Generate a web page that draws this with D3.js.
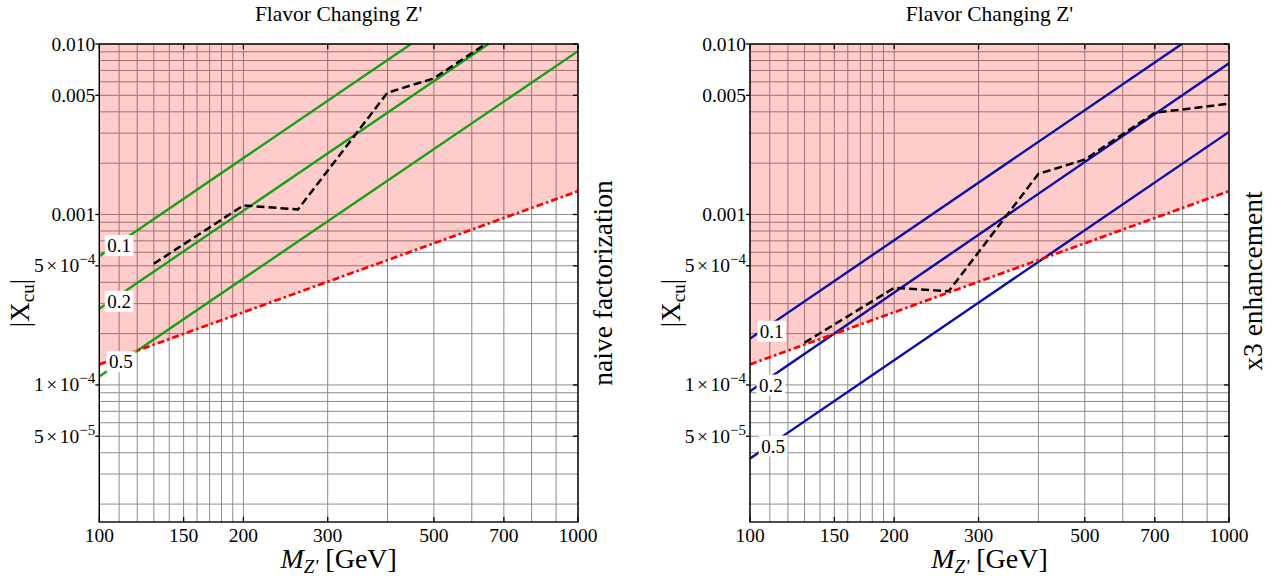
<!DOCTYPE html>
<html><head><meta charset="utf-8">
<script src="https://cdn.jsdelivr.net/npm/d3@7"></script>
<style>
body{margin:0;background:#fff;}
svg{display:block;font-family:"Liberation Serif","Times New Roman",serif;}
</style>
</head><body>
<svg id="c" width="1278" height="580"></svg>
<script>
// ---------------- data ----------------
const xTickValues = [100, 150, 200, 300, 500, 700, 1000];
const xTickLabels = ["100", "150", "200", "300", "500", "700", "1000"];
const yTickValues = [0.01, 0.005, 0.001, 5e-4, 1e-4, 5e-5];
const yTickMant = ["0.010", "0.005", "0.001", "5", "1", "5"];
const yTickExp = ["", "", "", "\u22124", "\u22124", "\u22125"];
const xGridValues = [100,110,120,130,140,150,160,170,180,190,200,300,400,500,600,700,800,900,1000];
const yGridValues = [2e-5,3e-5,4e-5,5e-5,6e-5,7e-5,8e-5,9e-5,
                     1e-4,2e-4,3e-4,4e-4,5e-4,6e-4,7e-4,8e-4,9e-4,
                     1e-3,2e-3,3e-3,4e-3,5e-3,6e-3,7e-3,8e-3,9e-3,1e-2];

const titles = ["Flavor Changing Z'", "Flavor Changing Z'"];
const sideLabels = ["naive factorization", "x3 enhancement"];

// boundary of the excluded (pink) region, identical in both panels
const boundary = [[100, 1.32e-4], [1000, 1.37e-3]];

// left panel (naive factorization): green lines
const leftLine01 = [[100, 5.69e-4], [448, 1.0e-2]];
const leftLine02 = [[100, 2.80e-4], [650, 1.0e-2]];
const leftLine05 = [[100, 1.12e-4], [1000, 9.08e-3]];
const leftDashed = [[130, 5.14e-4], [200, 1.13e-3], [260, 1.07e-3], [400, 5.18e-3],
                    [500, 6.29e-3], [700, 1.18e-2], [1000, 1.34e-2]];
// right panel (x3 enhancement): blue lines
const rightLine01 = [[100, 1.87e-4], [797, 1.0e-2]];
const rightLine02 = [[100, 9.19e-5], [1000, 7.7e-3]];
const rightLine05 = [[100, 3.70e-5], [1000, 3.05e-3]];
const rightDashed = [[130, 1.77e-4], [200, 3.71e-4], [260, 3.55e-4], [400, 1.73e-3],
                     [500, 2.10e-3], [700, 3.95e-3], [1000, 4.46e-3]];

const lineLabels = ["0.1", "0.2", "0.5"];
const leftLabelPos = [[110, 6.58e-4], [110, 3.10e-4], [111, 1.37e-4]];
const rightLabelPos = [[111, 2.07e-4], [110.6, 1.0e-4], [111.7, 4.39e-5]];

// ---------------- layout ----------------
const svg = d3.select("#c");
const yTop = 44, yBottom = 522;
const panels = [
  {x0: 99.3, x1: 578, lines: [leftLine01, leftLine02, leftLine05], dashed: leftDashed,
   color: "#15a015", labelPos: leftLabelPos, title: titles[0], side: sideLabels[0], sideX: 612, sideY: 283},
  {x0: 750, x1: 1229, lines: [rightLine01, rightLine02, rightLine05], dashed: rightDashed,
   color: "#0c0ca6", labelPos: rightLabelPos, title: titles[1], side: sideLabels[1], sideX: 1262, sideY: 281}
];

const y = d3.scaleLog().domain([1.57e-5, 0.01]).range([yBottom, yTop]);

panels.forEach((p, i) => {
  const x = d3.scaleLog().domain([100, 1000]).range([p.x0, p.x1]);
  const g = svg.append("g");
  const clipId = "clip" + i;
  svg.append("clipPath").attr("id", clipId).append("rect")
    .attr("x", p.x0).attr("y", yTop).attr("width", p.x1 - p.x0).attr("height", yBottom - yTop);

  // grid
  g.append("g").selectAll("line").data(xGridValues).join("line")
    .attr("x1", d => x(d)).attr("x2", d => x(d)).attr("y1", yTop).attr("y2", yBottom)
    .attr("stroke", "#8c8c8c").attr("stroke-width", 1);
  g.append("g").selectAll("line").data(yGridValues).join("line")
    .attr("y1", d => y(d)).attr("y2", d => y(d)).attr("x1", p.x0).attr("x2", p.x1)
    .attr("stroke", "#8c8c8c").attr("stroke-width", 1);

  const plot = g.append("g").attr("clip-path", `url(#${clipId})`);

  // pink excluded region
  const area = d3.area().x(d => x(d[0])).y0(() => y(0.01)).y1(d => y(d[1]));
  plot.append("path").datum(boundary).attr("d", area)
    .attr("fill", "#ff0000").attr("fill-opacity", 0.2);

  const line = d3.line().x(d => x(d[0])).y(d => y(d[1]));
  // coloured lines
  p.lines.forEach(L => {
    plot.append("path").datum(L).attr("d", line)
      .attr("fill", "none").attr("stroke", p.color).attr("stroke-width", 2.4);
  });
  // black dashed
  plot.append("path").datum(p.dashed).attr("d", line)
    .attr("fill", "none").attr("stroke", "#000").attr("stroke-width", 2.5)
    .attr("stroke-dasharray", "8,4");
  // red dash-dot boundary
  plot.append("path").datum(boundary).attr("d", line)
    .attr("fill", "none").attr("stroke", "#ff0000").attr("stroke-width", 2.7)
    .attr("stroke-dasharray", "7,3,2.5,3");

  // line labels
  p.labelPos.forEach((pos, k) => {
    const lg = plot.append("g").attr("transform", `translate(${x(pos[0])},${y(pos[1])})`);
    const t = lg.append("text").attr("text-anchor", "middle").attr("dy", "0.35em")
      .attr("font-size", 19).text(lineLabels[k]);
    const bb = t.node().getBBox();
    lg.insert("rect", "text").attr("x", bb.x - 2.5).attr("y", bb.y).attr("width", bb.width + 5)
      .attr("height", bb.height).attr("fill", "#fff");
  });

  // frame
  g.append("rect").attr("x", p.x0).attr("y", yTop).attr("width", p.x1 - p.x0).attr("height", yBottom - yTop)
    .attr("fill", "none").attr("stroke", "#000").attr("stroke-width", 1.4);

  // left ticks (outward) + labels
  const yt = g.append("g");
  yTickValues.forEach((v, k) => {
    yt.append("line").attr("x1", p.x0 - 4).attr("x2", p.x0).attr("y1", y(v)).attr("y2", y(v))
      .attr("stroke", "#000").attr("stroke-width", 1.3);
    const t = yt.append("text").attr("x", p.x0 - 4).attr("y", y(v) + 6.5)
      .attr("text-anchor", "end").attr("font-size", 19.5);
    t.append("tspan").text(yTickMant[k]);
    if (yTickExp[k]) {
      t.append("tspan").attr("dx", 2.5).text("\u00d7");
      t.append("tspan").attr("dx", 2.5).text("10");
      t.append("tspan").attr("font-size", 15).attr("dy", -8).text(yTickExp[k]);
    }
  });
  // right inward ticks
  yTickValues.forEach(v => {
    g.append("line").attr("x1", p.x1 - 5).attr("x2", p.x1).attr("y1", y(v)).attr("y2", y(v))
      .attr("stroke", "#000").attr("stroke-width", 1.3);
  });
  // bottom / top inward ticks
  xTickValues.forEach(v => {
    g.append("line").attr("x1", x(v)).attr("x2", x(v)).attr("y1", yBottom).attr("y2", yBottom - 5)
      .attr("stroke", "#000").attr("stroke-width", 1.3);
    g.append("line").attr("x1", x(v)).attr("x2", x(v)).attr("y1", yTop).attr("y2", yTop + 5)
      .attr("stroke", "#000").attr("stroke-width", 1.3);
  });
  g.append("g").selectAll("text").data(xTickValues).join("text")
    .attr("x", d => x(d)).attr("y", 541.5).attr("text-anchor", "middle")
    .attr("font-size", 19.5).text((d, k) => xTickLabels[k]);

  // title
  const cx = (p.x0 + p.x1) / 2;
  g.append("text").attr("x", cx).attr("y", 21).attr("text-anchor", "middle")
    .attr("font-size", 21.5).text(p.title);

  // x axis label
  const xl = g.append("text").attr("x", cx).attr("y", 568).attr("text-anchor", "middle").attr("font-size", 28);
  xl.append("tspan").attr("font-style", "italic").text("M");
  xl.append("tspan").attr("font-style", "italic").attr("font-size", 19).attr("dy", 5).text("Z'");
  xl.append("tspan").attr("dy", -5).text(" [GeV]");

  // y axis label
  const yl = g.append("text").attr("transform", `translate(${p.x0 - 70},303) rotate(-90)`)
    .attr("text-anchor", "middle").attr("font-size", 27);
  yl.append("tspan").text("|X");
  yl.append("tspan").attr("font-size", 19).attr("dy", 5).text("cu");
  yl.append("tspan").attr("dy", -5).text("|");

  // side label
  g.append("text").attr("transform", `translate(${p.sideX},${p.sideY}) rotate(-90)`)
    .attr("text-anchor", "middle").attr("font-size", 27.5).text(p.side);
});
</script>
</body></html>
